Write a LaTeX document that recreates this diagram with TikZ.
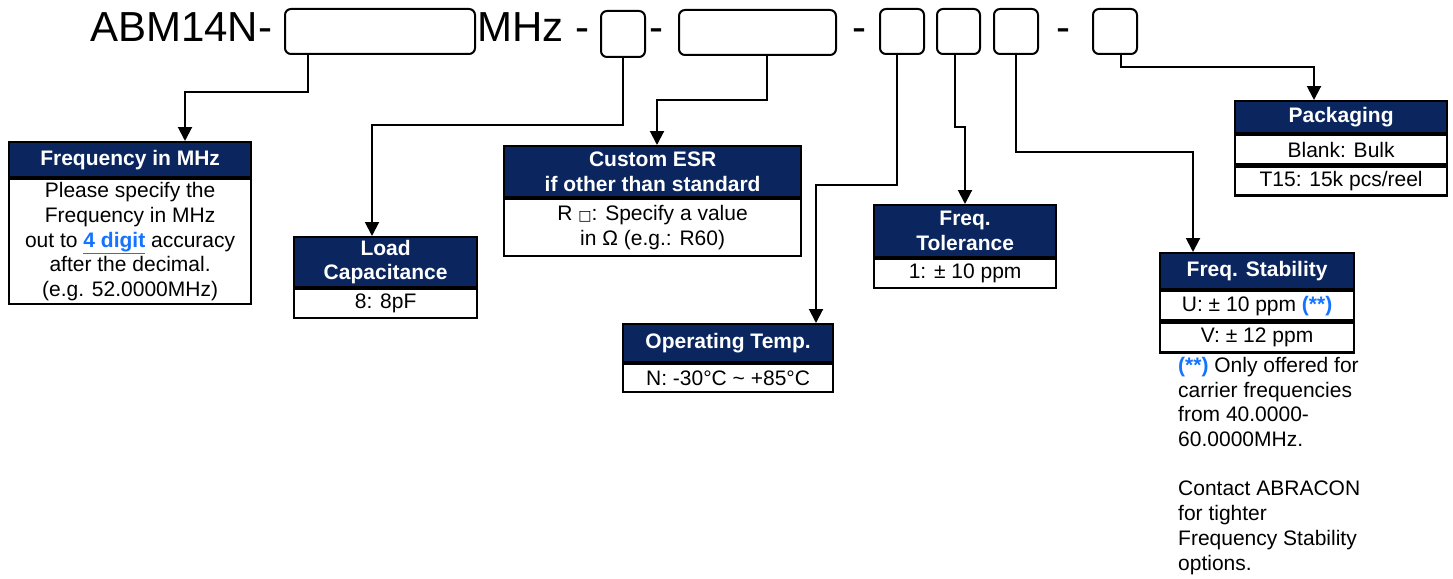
\documentclass[tikz,border=0pt]{standalone}
\usepackage{fontspec}
\setmainfont{Liberation Sans}
\newfontfamily\symfont{DejaVu Sans}
\usetikzlibrary{arrows.meta}
\definecolor{navy}{RGB}{11,38,94}
\definecolor{lblue}{RGB}{20,115,255}
\begin{document}
\begin{tikzpicture}[x=1pt,y=-1pt,
  hdr/.style={draw,line width=2.2pt,fill=navy,text=white,font=\bfseries\fontsize{21}{24.7}\selectfont,align=center,inner sep=0pt,anchor=north west},
  cell/.style={draw,line width=2.2pt,fill=white,font=\fontsize{21}{24.7}\selectfont,align=center,inner sep=0pt,anchor=north},
  slot/.style={draw,line width=2pt,rounded corners=6pt,inner sep=0pt,anchor=north west},
  conn/.style={line width=2pt},
  arr/.style={conn,-{Triangle[width=14pt,length=14pt]}},
  titletext/.style={font=\fontsize{42}{50}\selectfont,inner sep=0pt,anchor=base west}]
\useasboundingbox (0,0) rectangle (1453,578);

% part number line
\node[titletext] (t1) at (90,42) {ABM14N-};
\node[slot,minimum width=190,minimum height=45] (s1) at (284,8) {};
\node[titletext] (t2) at (477,42) {MHz -};
\node[slot,minimum width=44,minimum height=46] (s2) at (600,10) {};
\node[titletext] (t3) at (649,42) {-};
\node[slot,minimum width=157,minimum height=45] (s3) at (678,9) {};
\node[titletext] (t4) at (852,42) {-};
\node[slot,minimum width=44,minimum height=45] (s4) at (879,8) {};
\node[slot,minimum width=43,minimum height=45] (s5) at (936,8) {};
\node[slot,minimum width=44,minimum height=45] (s6) at (993,8) {};
\node[titletext] (t5) at (1056,42) {-};
\node[slot,minimum width=44,minimum height=45] (s7) at (1092,8) {};

% Frequency
\node[hdr,minimum width=242,minimum height=35] (fH) at (8,141) {Frequency in MHz};
\node[cell,minimum width=242,minimum height=125] (fB) at (fH.south) {Please specify the\\Frequency in MHz\\out to \textcolor{lblue}{\underline{\textbf{4 digit}}} accuracy\\after the decimal.\\(e.g. 52.0000MHz)};

% Load capacitance
\node[hdr,minimum width=183,minimum height=50] (lH) at (293,236) {Load\\Capacitance};
\node[cell,minimum width=183,minimum height=29] (lB) at (lH.south) {8: 8pF};

% Custom ESR
\node[hdr,minimum width=297,minimum height=51] (eH) at (503,145) {Custom ESR\\if other than standard};
\node[cell,minimum width=297,minimum height=57] (eB) at (eH.south) {R {\symfont\fontsize{14}{14}\selectfont □}: Specify a value\\in Ω (e.g.: R60)};

% Operating temp
\node[hdr,minimum width=210,minimum height=38] (oH) at (622,323) {Operating Temp.};
\node[cell,minimum width=210,minimum height=28] (oB) at (oH.south) {N: -30°C \textasciitilde{} +85°C};

% Tolerance
\node[hdr,minimum width=182,minimum height=52] (tH) at (873,204) {Freq.\\Tolerance};
\node[cell,minimum width=182,minimum height=29] (tB) at (tH.south) {1: ± 10 ppm};

% Packaging
\node[hdr,minimum width=212,minimum height=32] (pH) at (1234,100) {Packaging};
\node[cell,minimum width=212,minimum height=29] (pB1) at (pH.south) {Blank: Bulk};
\node[cell,minimum width=212,minimum height=29] (pB2) at (pB1.south) {T15: 15k pcs/reel};

% Stability
\node[hdr,minimum width=194,minimum height=36] (sH) at (1159,252) {Freq. Stability};
\node[cell,minimum width=194,minimum height=29] (sB1) at (sH.south) {U: ± 10 ppm \textcolor{lblue}{\textbf{(**)}}};
\node[cell,minimum width=194,minimum height=30] (sB2) at (sB1.south) {V: ± 12 ppm};

% note
\node[font=\fontsize{21}{24.7}\selectfont,align=left,anchor=north west,inner sep=0pt] (note) at (1178,357)
  {\textcolor{lblue}{\textbf{(**)}} Only offered for\\carrier frequencies\\from 40.0000-\\60.0000MHz.\\[24.7pt]Contact ABRACON\\for tighter\\Frequency Stability\\options.};

% connectors
\draw[arr] (s1.south -| 308,0) |- (185,92) -- (fH.north -| 185,0);
\draw[arr] (s2.south -| 623,0) |- (372,125) -- (lH.north -| 372,0);
\draw[arr] (s3.south -| 767,0) |- (657,100) -- (eH.north -| 657,0);
\draw[arr] (s4.south -| 897,0) |- (816,185) -- (oH.north -| 816,0);
\draw[arr] (s5.south -| 955,0) |- (965,127) -- (tH.north -| 965,0);
\draw[arr] (s6.south -| 1016,0) |- (1193,152) -- (sH.north -| 1193,0);
\draw[arr] (s7.south -| 1121,0) |- (1314,67) -- (pH.north -| 1314,0);
\end{tikzpicture}
\end{document}
